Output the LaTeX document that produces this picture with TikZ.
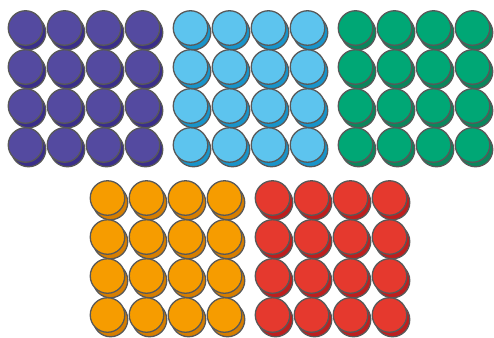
\documentclass[tikz,border=0pt]{standalone}
\usepackage{tikz}
\definecolor{cnedge}{RGB}{88,88,88}
\definecolor{cnpurtop}{RGB}{84,74,160}
\definecolor{cnpurlow}{RGB}{58,46,138}
\definecolor{cnblutop}{RGB}{93,196,238}
\definecolor{cnblulow}{RGB}{24,148,202}
\definecolor{cngrntop}{RGB}{0,167,117}
\definecolor{cngrnlow}{RGB}{10,134,92}
\definecolor{cnorgtop}{RGB}{246,156,0}
\definecolor{cnorglow}{RGB}{214,126,0}
\definecolor{cnredtop}{RGB}{229,57,46}
\definecolor{cnredlow}{RGB}{190,30,30}
\tikzset{
  coin/.style={circle, draw=cnedge, line width=1.3pt, minimum size=34.5pt, inner sep=0pt},
  coinlow/.style={coin, fill=#1},
  cointop/.style={coin, fill=#1}
}
% #1 group name, #2 x of first centre, #3 y of first centre, #4 top colour, #5 lower colour
\newcommand{\coingroup}[5]{%
  \foreach \r in {0,...,3}{
    \foreach \c in {0,...,3}{
      \node[coinlow=#5] (#1-low-\r-\c) at ({#2+39*\c+3},{#3+39*\r+4.5}) {};
      \node[cointop=#4] (#1-\r-\c) at ({#2+39*\c},{#3+39*\r}) {};
    }
  }%
}
\begin{document}
\begin{tikzpicture}[x=1pt,y=-1pt]
  \useasboundingbox (0,0) rectangle (494,337);
  \coingroup{purple}{25.5}{28}{cnpurtop}{cnpurlow}
  \coingroup{blue}{190.5}{28}{cnblutop}{cnblulow}
  \coingroup{green}{355.5}{28}{cngrntop}{cngrnlow}
  \coingroup{orange}{107.5}{198}{cnorgtop}{cnorglow}
  \coingroup{red}{272.5}{198}{cnredtop}{cnredlow}
\end{tikzpicture}
\end{document}
